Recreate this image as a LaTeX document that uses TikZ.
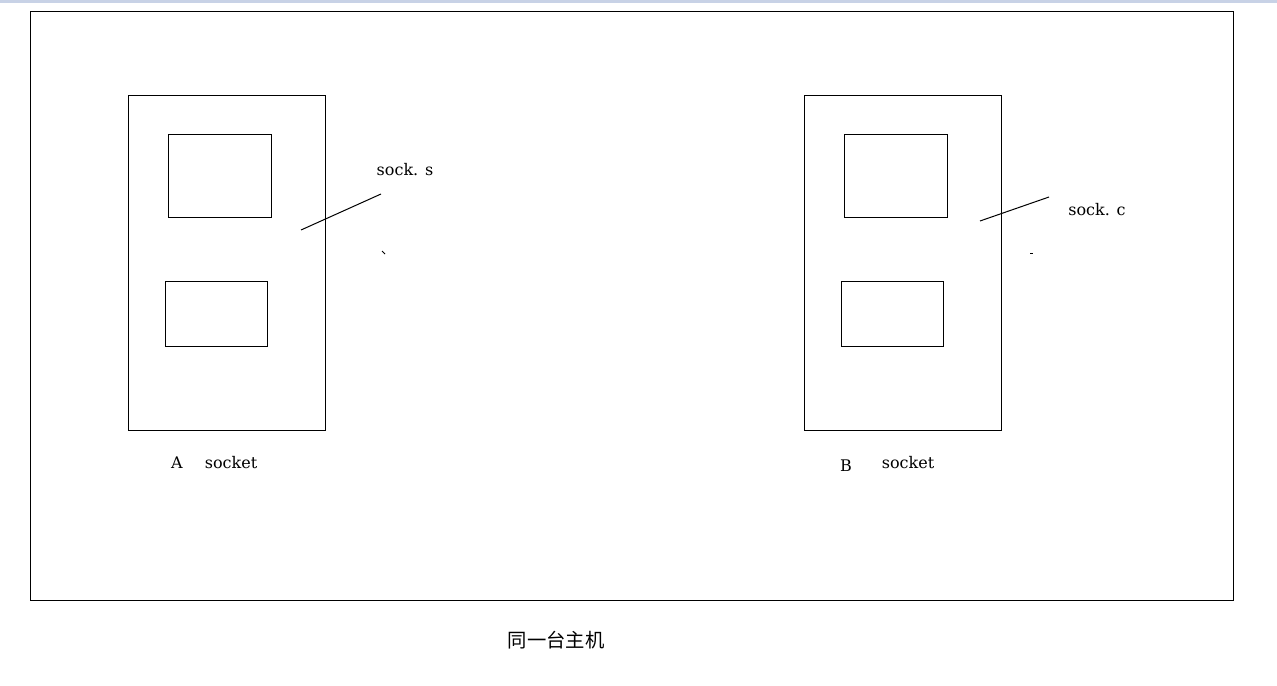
\documentclass[tikz,border=0pt]{standalone}
\usepackage{fontspec}
\setmainfont{DejaVu Serif}
\newfontfamily\cjk{Noto Sans CJK SC}
\usetikzlibrary{positioning}

\definecolor{bandblue}{RGB}{200,210,230}

\tikzset{
  frame/.style={draw, rectangle, line width=0.75pt, inner sep=0pt},
  label/.style={inner sep=0pt, font=\fontsize{12pt}{14pt}\selectfont},
  leader/.style={line width=0.75pt}
}

\begin{document}
\begin{tikzpicture}[x=0.75pt, y=-0.75pt]
\useasboundingbox (0,0) rectangle (1277,685);
\fill[bandblue] (0,0) rectangle (1277,3);

% host
\node[frame, minimum width=902.25pt, minimum height=441pt] (host) at (631.5,306) {};
\node[inner sep=0pt, font=\cjk\fontsize{14.5pt}{16pt}\selectfont] (hostlbl) at (556,640) {同一台主机};

% socket A
\node[frame, minimum width=147.75pt, minimum height=251.25pt] (A) at (226.5,262.5) {};
\node[frame, minimum width=77.25pt, minimum height=62.25pt] (Atop) at (219.5,175.5) {};
\node[frame, minimum width=76.5pt, minimum height=48.75pt] (Abot) at (216,313.5) {};
\node[label] (Aname) at (177,463) {A};
\node[label] (Asock) at (231,463) {socket};

% socket B
\node[frame, minimum width=147.75pt, minimum height=251.25pt] (B) at (902.5,262.5) {};
\node[frame, minimum width=77.25pt, minimum height=62.25pt] (Btop) at (895.5,175.5) {};
\node[frame, minimum width=76.5pt, minimum height=48.75pt] (Bbot) at (892,313.5) {};
\node[label] (Bname) at (846,466) {B};
\node[label] (Bsock) at (908,463) {socket};

% sock.s / sock.c
\node[label] (socks) at (405,170) {sock. s};
\node[label] (sockc) at (1097,210) {sock. c};
\coordinate (sa) at (301,230);
\coordinate (sb) at (381,194);
\coordinate (ca) at (980,221);
\coordinate (cb) at (1049,197);
\draw[leader] (sa) -- (sb);
\draw[leader] (ca) -- (cb);
\draw[leader] (382,251) -- (385,254);
\draw[leader] (1030,253) -- (1033,253);
\end{tikzpicture}
\end{document}
